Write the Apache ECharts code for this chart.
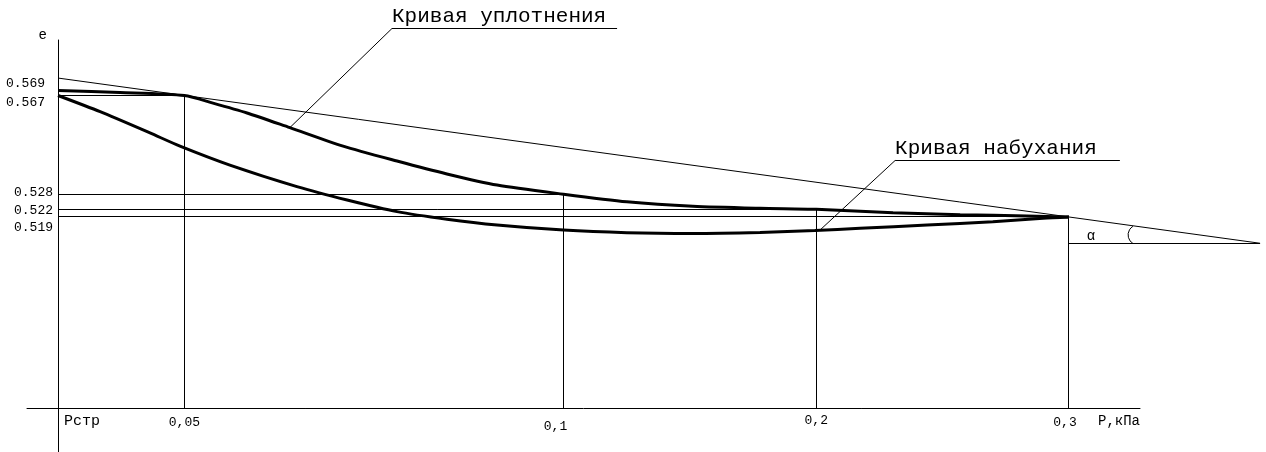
<!DOCTYPE html>
<html><head><meta charset="utf-8">
<script src="https://cdn.jsdelivr.net/npm/echarts@6/dist/echarts.min.js"></script>
<style>html,body{margin:0;padding:0;background:#fff}#c{width:1266px;height:452px}</style>
</head><body><div id="c"></div>
<script>
// ---- DATA ----
// Pressure axis tick labels and their positions along the drawn axis (drawing units, axis not to scale)
const pTickLabels = ['Рстр', '0,05', '0,1', '0,2', '0,3'];
const pTickPos = [0, 3.75, 15, 22.5, 30];

// Void ratio values marked on the e axis
const eTickValues = [0.569, 0.567, 0.528, 0.522, 0.519];

// Compression curve (Кривая уплотнения)
const compX = [0, 1.84, 3.75, 4.60, 5.61, 6.88, 8.46, 10.06, 11.54, 13.03, 15, 16.88, 18.84, 20.83, 22.5, 24.78, 26.77, 28.75, 30];
const compE = [0.569, 0.5682, 0.567, 0.5640, 0.5601, 0.5543, 0.5470, 0.5411, 0.5360, 0.5316, 0.528, 0.5250, 0.5232, 0.5224, 0.522, 0.5207, 0.5199, 0.5194, 0.519];

// Swelling curve (Кривая набухания)
const swellX = [0, 1.25, 2.73, 3.62, 5.10, 7.09, 8.58, 10.06, 11.54, 13.03, 15, 16.88, 18.84, 20.83, 22.46, 23.80, 25.79, 27.74, 29.23, 30];
const swellE = [0.567, 0.5606, 0.5522, 0.5470, 0.5395, 0.5310, 0.5257, 0.5211, 0.5181, 0.5158, 0.5138, 0.5128, 0.5125, 0.5129, 0.5136, 0.5145, 0.5158, 0.5171, 0.5185, 0.519];

// Key points of the compression curve (guide lines to both axes)
const guideX = [3.75, 15, 22.5, 30];
const guideE = [0.567, 0.528, 0.522, 0.519];

// Secant line through the compression curve and the horizontal base of angle α
const tangentX = [0, 35.67];
const tangentE = [0.5739, 0.5086];
const baseX = [30, 35.67];
const baseE = 0.5086;

// Callouts
const calloutText = ['Кривая уплотнения', 'Кривая набухания'];
const calloutAnchorX = [6.88, 22.61];
const calloutAnchorE = [0.5543, 0.5138];
const calloutElbowX = [9.91, 24.84];
const calloutElbowE = [0.5933, 0.5415];
const calloutEndX = [16.59, 31.51];

// Angle mark
const alphaText = 'α';
const alphaArcX = 32.05, alphaArcE = 0.5119;
const alphaLabelX = 30.65, alphaLabelE = 0.5115;

// ---- LAYOUT / STYLE ----
const FONT = '"Liberation Mono", "DejaVu Sans Mono", monospace';
const X_AXIS_OFFSET = -44, Y_AXIS_OFFSET = -31;
const X_MIN = -0.92, X_MAX = 32.107, Y_MIN = 0.42609, Y_MAX = 0.58894;

const compData = compX.map((x, i) => [x, compE[i]]);
const swellData = swellX.map((x, i) => [x, swellE[i]]);

const segs = [];
guideX.forEach((x, i) => {
  segs.push([0, guideE[i], x, guideE[i], 0]);
  segs.push([x, guideE[i], x, guideE[i], 1]);
});
segs.push([tangentX[0], tangentE[0], tangentX[1], tangentE[1], 0]);
segs.push([baseX[0], baseE, baseX[1], baseE, 0]);

const callouts = calloutText.map((t, i) => [calloutAnchorX[i], calloutAnchorE[i], calloutElbowX[i], calloutElbowE[i], calloutEndX[i]]);

function crisp(v) { return Math.round(v - 0.5) + 0.5; }

function renderSeg(params, api) {
  const p1 = api.coord([api.value(0), api.value(1)]);
  let p2 = api.coord([api.value(2), api.value(3)]);
  if (api.value(4) === 1) {
    const cs = params.coordSys;
    p2 = [p1[0], cs.y + cs.height + X_AXIS_OFFSET];
  }
  let x1 = p1[0], y1 = p1[1], x2 = p2[0], y2 = p2[1];
  if (Math.abs(y1 - y2) < 0.01) { y1 = y2 = crisp(y1); }
  if (Math.abs(x1 - x2) < 0.01) { x1 = x2 = crisp(x1); }
  return { type: 'line', shape: { x1, y1, x2, y2 }, style: { stroke: '#000', lineWidth: 1 } };
}

function renderCallout(params, api) {
  const a = api.coord([api.value(0), api.value(1)]);
  const b = api.coord([api.value(2), api.value(3)]);
  const c = api.coord([api.value(4), api.value(3)]);
  const by = crisp(b[1]);
  return {
    type: 'group', children: [
      { type: 'polyline', shape: { points: [a, [b[0], by], [c[0], by]] }, style: { stroke: '#000', lineWidth: 1, fill: 'none' } },
      { type: 'text', x: b[0], y: by - 2, style: { text: calloutText[params.dataIndex], font: '21px ' + FONT, fill: '#000', align: 'left', verticalAlign: 'bottom' } }
    ]
  };
}

function renderAlpha(params, api) {
  const c = api.coord([alphaArcX, alphaArcE]);
  const l = api.coord([alphaLabelX, alphaLabelE]);
  return {
    type: 'group', children: [
      { type: 'arc', shape: { cx: c[0], cy: c[1], r: 10, startAngle: 121 * Math.PI / 180, endAngle: 239 * Math.PI / 180, clockwise: true }, style: { stroke: '#000', fill: 'none', lineWidth: 1 } },
      { type: 'text', x: l[0], y: l[1], style: { text: alphaText, font: '14px ' + FONT, fill: '#000', align: 'center', verticalAlign: 'middle' } }
    ]
  };
}

const yRich = {
  s0: { fontFamily: FONT, fontSize: 13, padding: [0, 8, 13, 0] },
  s1: { fontFamily: FONT, fontSize: 13, padding: [15, 8, 0, 0] },
  s2: { fontFamily: FONT, fontSize: 13, padding: [0, 0, 4, 0] },
  s3: { fontFamily: FONT, fontSize: 13, padding: [3, 0, 0, 0] },
  s4: { fontFamily: FONT, fontSize: 13, padding: [22, 0, 0, 0] }
};
const xRich = {
  t0: { fontFamily: FONT, fontSize: 15, padding: [0, 0, 0, 48] },
  t1: { fontFamily: FONT, fontSize: 13, padding: [2, 0, 0, 0] },
  t2: { fontFamily: FONT, fontSize: 13, padding: [6, 16, 0, 0] },
  t3: { fontFamily: FONT, fontSize: 13, padding: [0, 0, 0, 0] },
  t4: { fontFamily: FONT, fontSize: 13, padding: [2, 8, 0, 0] }
};

const option = {
  backgroundColor: '#fff',
  animation: false,
  grid: { left: 27, right: 126, top: 40, bottom: 0, outerBoundsMode: 'none', containLabel: false },
  xAxis: {
    type: 'value', min: X_MIN, max: X_MAX, position: 'bottom', offset: X_AXIS_OFFSET,
    name: 'Р,кПа', nameLocation: 'end', nameGap: 0,
    nameTextStyle: { fontFamily: FONT, fontSize: 14, color: '#000', align: 'right', verticalAlign: 'top', padding: [6, 0, 0, 0] },
    axisLine: { onZero: false, lineStyle: { color: '#000', width: 1 } },
    axisTick: { show: false },
    splitLine: { show: false },
    axisLabel: {
      customValues: pTickPos, margin: 6, color: '#000', fontFamily: FONT, fontSize: 13,
      formatter: v => { const i = pTickPos.findIndex(p => Math.abs(p - v) < 1e-9); return i < 0 ? '' : '{t' + i + '|' + pTickLabels[i] + '}'; },
      rich: xRich
    }
  },
  yAxis: {
    type: 'value', min: Y_MIN, max: Y_MAX, position: 'left', offset: Y_AXIS_OFFSET,
    name: 'e', nameLocation: 'end', nameGap: 5,
    nameTextStyle: { fontFamily: FONT, fontSize: 14, color: '#000', align: 'right', verticalAlign: 'middle', padding: [0, 11, 0, 0] },
    axisLine: { show: true, onZero: false, lineStyle: { color: '#000', width: 1 } },
    axisTick: { show: false },
    splitLine: { show: false },
    axisLabel: {
      customValues: eTickValues, margin: 5, color: '#000', fontFamily: FONT, fontSize: 13,
      formatter: v => { const i = eTickValues.findIndex(p => Math.abs(p - v) < 1e-9); return i < 0 ? '' : '{s' + i + '|' + eTickValues[i].toFixed(3) + '}'; },
      rich: yRich
    }
  },
  series: [
    { type: 'custom', name: 'guides', renderItem: renderSeg, data: segs, clip: false, silent: true, encode: { x: [0, 2], y: [1, 3] }, z: 1 },
    { type: 'line', name: 'Кривая уплотнения', data: compData, showSymbol: false, clip: false, smooth: 0.25, lineStyle: { color: '#000', width: 3 }, z: 3 },
    { type: 'line', name: 'Кривая набухания', data: swellData, showSymbol: false, clip: false, smooth: 0.25, lineStyle: { color: '#000', width: 3 }, z: 3 },
    { type: 'custom', name: 'callouts', renderItem: renderCallout, data: callouts, clip: false, silent: true, encode: { x: [0, 2], y: [1, 3] }, z: 2 },
    { type: 'custom', name: 'alpha', renderItem: renderAlpha, data: [[alphaArcX, alphaArcE]], clip: false, silent: true, encode: { x: 0, y: 1 }, z: 2 }
  ]
};
const chart = echarts.init(document.getElementById('c'));
chart.setOption(option);
</script>
</body></html>
